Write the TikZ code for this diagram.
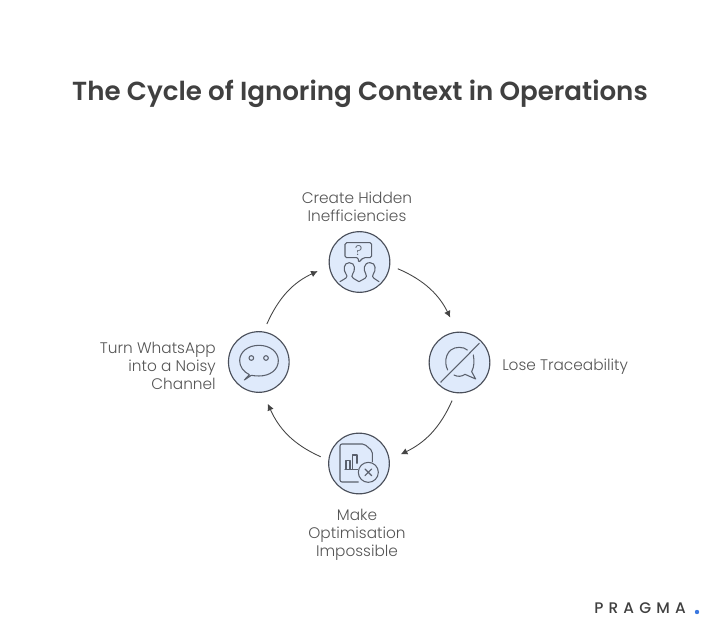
\documentclass[tikz,border=0pt]{standalone}
\usepackage{fontspec}
\setmainfont{Poppins}
\newfontfamily\titlefont{Poppins}[UprightFont=* SemiBold]
\newfontfamily\labelfont{Poppins}[UprightFont=* Light]
\newfontfamily\logofont{Poppins}[UprightFont=* Medium,LetterSpace=34]
\definecolor{inkdark}{HTML}{404040}
\definecolor{inklabel}{HTML}{555555}
\definecolor{ringcol}{HTML}{4A4F5A}
\definecolor{discfill}{HTML}{DFEAFB}
\definecolor{iconcol}{HTML}{5A606C}
\definecolor{dotblue}{HTML}{3B78E0}
\definecolor{arrowcol}{HTML}{444444}
\usetikzlibrary{arrows.meta}
\tikzset{
  disc/.style={circle,draw=ringcol,fill=discfill,line width=.85pt,minimum size=45.5pt,inner sep=0pt,outer sep=6.4pt},
  lab/.style={inner sep=0pt,font=\labelfont\fontsize{11.5pt}{13.5pt}\selectfont,text=inklabel},
  link/.style={draw=arrowcol,line width=.65pt,-{Latex[length=5pt,width=5pt]}},
  icon/.style={draw=iconcol,line width=.8pt,line join=round,line cap=round},
  zoomed/.style={x=.25pt,y=-.25pt}
}
\begin{document}
\begin{tikzpicture}[x=.75pt,y=-.75pt]
\useasboundingbox (0,0) rectangle (719,635);
\fill[white] (0,0) rectangle (719,635);
\node[inner sep=0pt,text=inkdark,font=\titlefont\fontsize{19.6pt}{23pt}\selectfont] (title) at (360,94) {The Cycle of Ignoring Context in Operations};
\node[disc] (top) at (359.5,262) {};
\node[disc] (right) at (459.5,362.5) {};
\node[disc] (bottom) at (359,463.5) {};
\node[disc] (left) at (258.8,362) {};
\node[lab,align=center] (ltop) at (357,206.5) {Create Hidden\\Inefficiencies};
\node[lab,anchor=west] (lright) at (502,367) {Lose Traceability};
\node[lab,align=center] (lbottom) at (357,535) {Make\\Optimisation\\Impossible};
\node[lab,align=right,anchor=east] (lleft) at (216,365.5) {Turn WhatsApp\\into a Noisy\\Channel};
\draw[link,shorten >=5.5pt] (top.-10) to[out=-23,in=116] (right.99);
\draw[link,shorten >=3pt] (right.259) to[out=-114,in=26] (bottom.11);
\draw[link,shorten >=3pt] (bottom.170) to[out=156,in=-66] (left.-79);
\draw[link,shorten >=3pt] (left.78) to[out=66,in=-155] (top.191);
% icon top
\begin{scope}[shift={(310,220)},zoomed]
\draw[icon,rounded corners=1.2pt] (145,128) -- (145,113) -- (105,113) -- (105,68) -- (185,68) -- (185,113) -- (160,113) -- cycle;
\node[inner sep=0pt,text=iconcol,font=\labelfont\fontsize{10.5pt}{10.5pt}\selectfont] (qm) at (146,92) {?};
\draw[icon] (90,185) -- (108,174) .. controls (112,170) and (112,166) .. (108,162) .. controls (100,152) and (99,128) .. (118,128) .. controls (137,128) and (136,152) .. (128,162) .. controls (124,167) and (125,172) .. (130,175) -- (147,185) -- (165,175) .. controls (170,172) and (171,166) .. (167,161) .. controls (160,150) and (160,128) .. (180,128) .. controls (199,128) and (198,152) .. (190,162) .. controls (186,167) and (187,172) .. (192,175) -- (207,185);
\end{scope}
% icon right
\begin{scope}[shift={(410,320)},zoomed]
\draw[icon] (92,187) -- (208,70);
\draw[icon] (113,150) .. controls (100,125) and (108,82) .. (148,82) .. controls (158,82) and (166,85) .. (172,90);
\draw[icon] (190,105) .. controls (193,122) and (193,140) .. (185,155) -- (197,177) -- (165,163) .. controls (155,170) and (143,171) .. (132,165);
\end{scope}
% icon bottom
\begin{scope}[shift={(310,420)},zoomed]
\draw[icon,rounded corners=1.5pt] (145,186) -- (90,186) -- (90,72) -- (163,72) -- (187,93) -- (187,125);
\draw[icon] (108,148) -- (108,122) -- (120,122) -- (120,148);
\draw[icon] (128,148) -- (128,105) -- (141,105) -- (141,130);
\draw[icon] (105,148) -- (143,148);
\draw[icon] (175,157) circle[radius=30];
\draw[icon] (165,147) -- (185,167) (185,147) -- (165,167);
\end{scope}
% icon left
\begin{scope}[shift={(210,320)},zoomed]
\draw[icon] (118,164) .. controls (100,155) and (89,140) .. (89,122) .. controls (89,95) and (115,76) .. (147,76) .. controls (179,76) and (205,95) .. (205,122) .. controls (205,150) and (179,168) .. (147,168) .. controls (138,168) and (130,167) .. (124,166) -- (103,180) -- (118,164);
\draw[icon] (124,114) circle[radius=7];
\draw[icon] (168,114) circle[radius=7];
\end{scope}
\node[inner sep=0pt,anchor=west,text=inkdark,font=\logofont\fontsize{11.5pt}{12pt}\selectfont] (logo) at (594,608.5) {PRAGMA};
\fill[dotblue] (697,612) circle[radius=2.2];
\end{tikzpicture}
\end{document}
